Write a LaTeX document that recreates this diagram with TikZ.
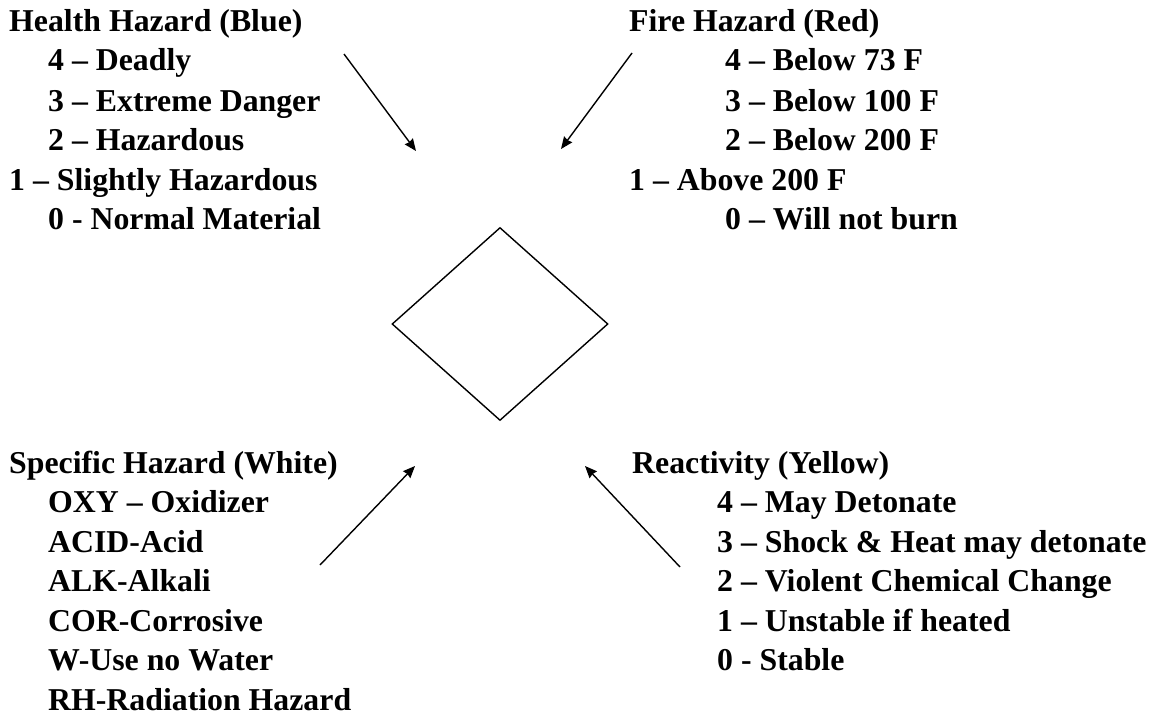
\documentclass[tikz,border=0pt]{standalone}
\usepackage{fontspec}
\setmainfont{Liberation Serif}
\usetikzlibrary{arrows.meta,shapes.geometric}
\begin{document}
\begin{tikzpicture}[x=1pt,y=-1pt,
  lbl/.style={anchor=base west,inner sep=0pt,font=\fontsize{31.8}{32}\selectfont\bfseries},
  conn/.style={line width=1.4pt,-{Stealth[length=12pt,width=10pt,inset=1pt]}}]
\useasboundingbox (0,0) rectangle (1171,717);
% diamond
\node[diamond,draw,line width=1.4pt,minimum width=216pt,minimum height=193pt,inner sep=0pt] (dia) at (500,324) {};
% Health
\node[lbl] (h0) at (9,32) {Health Hazard (Blue)};
\node[lbl] (h1) at (48,71) {4 – Deadly};
\node[lbl] (h2) at (48,111) {3 – Extreme Danger};
\node[lbl] (h3) at (48,150) {2 – Hazardous};
\node[lbl] (h4) at (9,190) {1 – Slightly Hazardous};
\node[lbl] (h5) at (48,229) {0 - Normal Material};
% Fire
\node[lbl] (f0) at (629,32) {Fire Hazard (Red)};
\node[lbl] (f1) at (725,71) {4 – Below 73 F};
\node[lbl] (f2) at (725,111) {3 – Below 100 F};
\node[lbl] (f3) at (725,150) {2 – Below 200 F};
\node[lbl] (f4) at (629,190) {1 – Above 200 F};
\node[lbl] (f5) at (725,229) {0 – Will not burn};
% Specific
\node[lbl] (s0) at (9,473) {Specific Hazard (White)};
\node[lbl] (s1) at (48,512) {OXY – Oxidizer};
\node[lbl] (s2) at (48,552) {ACID-Acid};
\node[lbl] (s3) at (48,591) {ALK-Alkali};
\node[lbl] (s4) at (48,631) {COR-Corrosive};
\node[lbl] (s5) at (48,670) {W-Use no Water};
\node[lbl] (s6) at (48,710) {RH-Radiation Hazard};
% Reactivity
\node[lbl] (r0) at (632,473) {Reactivity (Yellow)};
\node[lbl] (r1) at (717,512) {4 – May Detonate};
\node[lbl] (r2) at (717,552) {3 – Shock \& Heat may detonate};
\node[lbl] (r3) at (717,591) {2 – Violent Chemical Change};
\node[lbl] (r4) at (717,631) {1 – Unstable if heated};
\node[lbl] (r5) at (717,670) {0 - Stable};
% connectors
\coordinate (a1s) at (344,54);  \coordinate (a1e) at (416,151);
\coordinate (a2s) at (632,53);  \coordinate (a2e) at (561,149);
\coordinate (a3s) at (320,565); \coordinate (a3e) at (415,466);
\coordinate (a4s) at (680,567); \coordinate (a4e) at (585,466);
\draw[conn] (a1s) -- (a1e);
\draw[conn] (a2s) -- (a2e);
\draw[conn] (a3s) -- (a3e);
\draw[conn] (a4s) -- (a4e);
\end{tikzpicture}
\end{document}
